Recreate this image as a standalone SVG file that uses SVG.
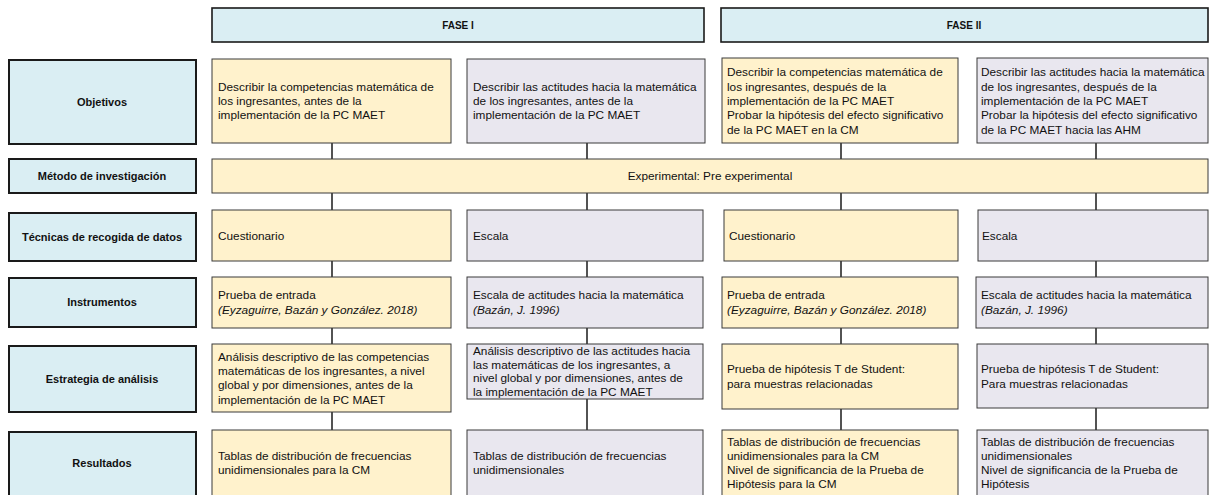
<svg xmlns="http://www.w3.org/2000/svg" width="1213" height="495" viewBox="0 0 1213 495">
<style>
.lbl{fill:#DAEEF3;stroke:#1a1a1a;stroke-width:2}
.hdr{fill:#DAEEF3;stroke:#1a1a1a;stroke-width:1.6}
.y{fill:#FFF2CC;stroke:#3a3a3a;stroke-width:1}
.p{fill:#E9E7EF;stroke:#3a3a3a;stroke-width:1}
text{font-family:"Liberation Sans",Arial,sans-serif;font-size:11.8px;fill:#111}
.b{font-weight:bold;text-anchor:middle;font-size:11px}
.h{font-weight:bold;text-anchor:middle;font-size:10px}
.i{font-style:italic}
.c{text-anchor:middle}
.conn line{stroke:#1a1a1a;stroke-width:1.5}
</style>
<rect width="1213" height="495" fill="#fff"/>
<g id="fase1"><rect class="hdr" x="212" y="8" width="492" height="34"/><text class="h" x="458" y="29">FASE I</text></g>
<g id="fase2"><rect class="hdr" x="721" y="8" width="487" height="34"/><text class="h" x="964" y="29">FASE II</text></g>

<g id="lbl-objetivos"><rect class="lbl" x="9" y="60" width="187" height="84"/><text class="b" x="102" y="106">Objetivos</text></g>
<g id="lbl-metodo"><rect class="lbl" x="9" y="159" width="187" height="34"/><text class="b" x="102" y="180">Método de investigación</text></g>
<g id="lbl-tecnicas"><rect class="lbl" x="9" y="213" width="187" height="48"/><text class="b" x="102" y="241">Técnicas de recogida de datos</text></g>
<g id="lbl-instrumentos"><rect class="lbl" x="9" y="278" width="187" height="49"/><text class="b" x="102" y="306">Instrumentos</text></g>
<g id="lbl-estrategia"><rect class="lbl" x="9" y="346" width="187" height="66"/><text class="b" x="102" y="383">Estrategia de análisis</text></g>
<g id="lbl-resultados"><rect class="lbl" x="9" y="432" width="187" height="66"/><text class="b" x="102" y="467">Resultados</text></g>

<g id="conectores" class="conn">
<line x1="332" y1="143" x2="332" y2="159"/><line x1="587" y1="143" x2="587" y2="159"/><line x1="841" y1="143" x2="841" y2="159"/><line x1="1096" y1="143" x2="1096" y2="159"/>
<line x1="332" y1="193" x2="332" y2="210"/><line x1="587" y1="193" x2="587" y2="210"/><line x1="841" y1="193" x2="841" y2="210"/><line x1="1096" y1="193" x2="1096" y2="210"/>
<line x1="332" y1="261" x2="332" y2="277"/><line x1="587" y1="261" x2="587" y2="277"/><line x1="841" y1="261" x2="841" y2="277"/><line x1="1096" y1="261" x2="1096" y2="277"/>
<line x1="332" y1="328" x2="332" y2="344"/><line x1="587" y1="328" x2="587" y2="344"/><line x1="841" y1="328" x2="841" y2="344"/><line x1="1096" y1="328" x2="1096" y2="344"/>
<line x1="332" y1="412" x2="332" y2="430"/><line x1="587" y1="399" x2="587" y2="430"/><line x1="841" y1="409" x2="841" y2="430"/><line x1="1096" y1="408" x2="1096" y2="430"/>
</g>

<g id="obj1"><rect class="y" x="212" y="59" width="239" height="84"/>
<text x="218" y="91">Describir la competencias matemática de</text><text x="218" y="105">los ingresantes, antes de la</text><text x="218" y="119">implementación de la PC MAET</text></g>
<g id="obj2"><rect class="p" x="467" y="59" width="238" height="84"/>
<text x="473" y="91">Describir las actitudes hacia la matemática</text><text x="473" y="105">de los ingresantes, antes de la</text><text x="473" y="119">implementación de la PC MAET</text></g>
<g id="obj3"><rect class="y" x="722" y="58" width="236" height="85"/>
<text x="727" y="76">Describir la competencias matemática de</text><text x="727" y="90.5">los ingresantes, después de la</text><text x="727" y="105">implementación de la PC MAET</text><text x="727" y="119">Probar la hipótesis del efecto significativo</text><text x="727" y="133.5">de la PC MAET en la CM</text></g>
<g id="obj4"><rect class="p" x="977" y="58" width="231" height="85"/>
<text x="981" y="76">Describir las actitudes hacia la matemática</text><text x="981" y="90.5">de los ingresantes, después de la</text><text x="981" y="105">implementación de la PC MAET</text><text x="981" y="119">Probar la hipótesis del efecto significativo</text><text x="981" y="133.5">de la PC MAET hacia las AHM</text></g>

<g id="metodo"><rect class="y" x="212" y="159" width="996" height="34"/><text class="c" x="710" y="180">Experimental: Pre experimental</text></g>

<g id="tec1"><rect class="y" x="212" y="210" width="239" height="51"/><text x="218" y="240">Cuestionario</text></g>
<g id="tec2"><rect class="p" x="467" y="210" width="236" height="51"/><text x="473" y="240">Escala</text></g>
<g id="tec3"><rect class="y" x="724" y="210" width="234" height="51"/><text x="729" y="240">Cuestionario</text></g>
<g id="tec4"><rect class="p" x="978" y="210" width="230" height="51"/><text x="982" y="240">Escala</text></g>

<g id="ins1"><rect class="y" x="212" y="277" width="239" height="51"/><text x="218" y="299">Prueba de entrada</text><text class="i" x="218" y="313.5">(Eyzaguirre, Bazán y González. 2018)</text></g>
<g id="ins2"><rect class="p" x="467" y="277" width="236" height="51"/><text x="473" y="299">Escala de actitudes hacia la matemática</text><text class="i" x="473" y="313.5">(Bazán, J.  1996)</text></g>
<g id="ins3"><rect class="y" x="722" y="277" width="236" height="51"/><text x="727" y="299">Prueba de entrada</text><text class="i" x="727" y="313.5">(Eyzaguirre, Bazán y González. 2018)</text></g>
<g id="ins4"><rect class="p" x="976" y="277" width="232" height="51"/><text x="981" y="299">Escala de actitudes hacia la matemática</text><text class="i" x="981" y="313.5">(Bazán, J.  1996)</text></g>

<g id="est1"><rect class="y" x="212" y="344" width="239" height="68"/>
<text x="218" y="360.5">Análisis descriptivo de las competencias</text><text x="218" y="375">matemáticas de los ingresantes, a nivel</text><text x="218" y="389">global y por dimensiones, antes de la</text><text x="218" y="403.5">implementación de la PC MAET</text></g>
<g id="est2"><rect class="p" x="467" y="344" width="236" height="55"/>
<text x="473" y="355">Análisis descriptivo de las actitudes hacia</text><text x="473" y="368.5">las matemáticas de los ingresantes, a</text><text x="473" y="382">nivel global y por dimensiones, antes de</text><text x="473" y="395.5">la implementación de la PC MAET</text></g>
<g id="est3"><rect class="y" x="722" y="344" width="236" height="65"/><text x="727" y="373">Prueba de hipótesis T de Student:</text><text x="727" y="387.5">para muestras relacionadas</text></g>
<g id="est4"><rect class="p" x="977" y="344" width="231" height="64"/><text x="981" y="373">Prueba de hipótesis T de Student:</text><text x="981" y="387.5">Para muestras relacionadas</text></g>

<g id="res1"><rect class="y" x="212" y="430" width="239" height="70"/><text x="218" y="460">Tablas de distribución de frecuencias</text><text x="218" y="474">unidimensionales para la CM</text></g>
<g id="res2"><rect class="p" x="467" y="430" width="236" height="70"/><text x="473" y="460">Tablas de distribución de frecuencias</text><text x="473" y="474">unidimensionales</text></g>
<g id="res3"><rect class="y" x="722" y="430" width="236" height="70"/><text x="727" y="445.5">Tablas de distribución de frecuencias</text><text x="727" y="459.5">unidimensionales para la CM</text><text x="727" y="474">Nivel de significancia de la Prueba de</text><text x="727" y="488">Hipótesis para la CM</text></g>
<g id="res4"><rect class="p" x="977" y="430" width="231" height="70"/><text x="981" y="445.5">Tablas de distribución de frecuencias</text><text x="981" y="459.5">unidimensionales</text><text x="981" y="474">Nivel de significancia de la Prueba de</text><text x="981" y="488">Hipótesis</text></g>
</svg>
